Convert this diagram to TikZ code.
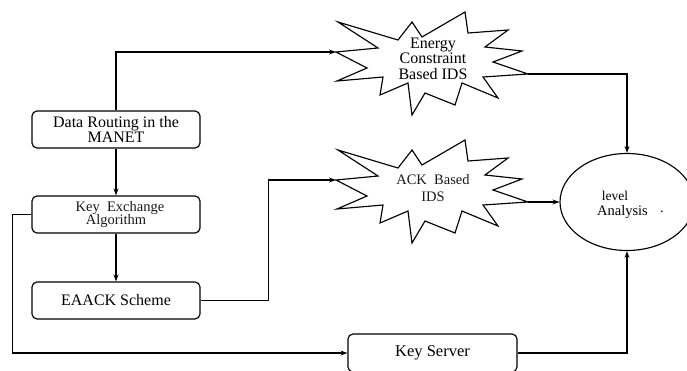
\documentclass[tikz,border=0pt]{standalone}
\usepackage{fontspec}
\setmainfont{Liberation Serif}
\usetikzlibrary{arrows.meta,shapes.geometric}
\begin{document}
\begin{tikzpicture}[x=1pt,y=-1pt,
  line width=1.15pt,
  box/.style={draw, rounded corners=5pt, minimum width=168pt, minimum height=37pt, align=center, inner sep=0pt, font=\fontsize{16}{14}\selectfont},
  arr/.style={-{Stealth[length=7pt,width=5pt]}},
  lbl/.style={align=center, inner sep=0pt, font=\fontsize{16}{15.5}\selectfont},
  burstpic/.pic={
    \draw[line join=miter] (336,52) -- (378,48) -- (338,22) -- (398,40) -- (412,22) -- (422,37) -- (465,12) -- (468,33) -- (508,30) -- (485,47) -- (522,51) -- (493,62) -- (528,74) -- (483,77) -- (498,98) -- (462,83) -- (455,105) -- (425,93) -- (412,115) -- (408,83) -- (380,95) -- (383,77) -- (337,81) -- (367,68) -- cycle;
  }
]
\useasboundingbox (0,0) rectangle (687,370);
% boxes
\node[box] (dr) at (116,129.5) {Data Routing in the\\MANET};
\node[box, font=\fontsize{14.5}{13.5}\selectfont, text=black!90] (ke) at (116,214.5) {\hspace*{8pt}Key\ \ Exchange\\Algorithm};
\node[box] (ea) at (116,300.5) {EAACK Scheme};
\node[box, minimum width=169pt, minimum height=38pt, font=\fontsize{16.5}{14}\selectfont] (ks) at (432.5,353) {Key Server};
% starbursts
\pic at (0,0) {burstpic};
\pic at (0,128) {burstpic};
\coordinate (e1in) at (336,52);
\coordinate (e1out) at (528,74);
\coordinate (e2in) at (336,180);
\coordinate (e2out) at (528,202);
\node[lbl] (ec) at (433,58.5) {Energy\\Constraint\\Based IDS};
\node[lbl, font=\fontsize{14.5}{17}\selectfont, text=black!90] (ack) at (433,188.5) {ACK\ \ Based\\IDS};
% ellipse
\node[draw, ellipse, minimum width=134pt, minimum height=97pt] (la) at (627,202) {};
\node[font=\fontsize{13.5}{14}\selectfont] (lv) at (615,196) {level};
\node[font=\fontsize{14.5}{14}\selectfont] (an) at (622.5,212) {Analysis};
\node[font=\fontsize{14.5}{14}\selectfont] (dt) at (662,212) {.};
% connectors
\draw[arr] (dr.north) |- (e1in);
\draw[arr] (dr.south) -- (ke.north);
\draw[arr] (ke.south) -- (ea.north);
\draw[arr] (ea.east) -- ++(68,0) |- (e2in);
\draw[arr] (ke.west) -- ++(-19,0) |- (ks.west);
\draw[arr] (e1out) -| (la.north);
\draw[arr] (e2out) -- (la.west);
\draw[arr] (ks.east) -| (la.south);
\end{tikzpicture}
\end{document}
